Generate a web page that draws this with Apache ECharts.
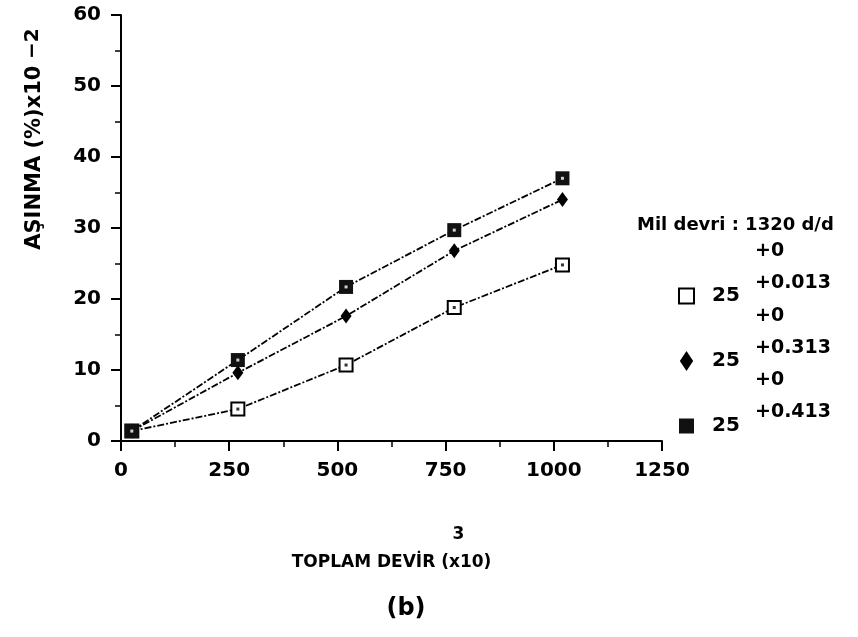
<!DOCTYPE html>
<html>
<head>
<meta charset="utf-8">
<script src="https://cdn.jsdelivr.net/npm/echarts@6/dist/echarts.min.js"></script>
<style>
  html, body { margin: 0; padding: 0; background: #fff; }
  #main { width: 858px; height: 637px; }
</style>
</head>
<body>
<div id="main"></div>
<script>
  // toplam devir (x10^3)
  const totalRev = [25, 270, 520, 770, 1020];
  // asinma (%) x10^-2, one list per shaft tolerance
  const wear013 = [1.4, 4.5, 10.7, 18.8, 24.8];
  const wear313 = [1.4, 9.6, 17.6, 26.8, 34.0];
  const wear413 = [1.4, 11.4, 21.7, 29.7, 37.0];

  const nominal = "25";
  const lowerTol = ["+0", "+0", "+0"];
  const upperTol = ["+0.013", "+0.313", "+0.413"];
  const seriesNames = ["25 +0/+0.013", "25 +0/+0.313", "25 +0/+0.413"];

  const xTicks = [0, 250, 500, 750, 1000, 1250];
  const yTicks = [0, 10, 20, 30, 40, 50, 60];

  const font = "DejaVu Sans";
  const ink = "#000";

  const pairs = (ys) => totalRev.map((x, i) => [x, ys[i]]);

  const lineStyle = { color: ink, width: 1.8, type: [7, 2, 2, 2] };

  const chart = echarts.init(document.getElementById("main"));

  // tolerance texts next to legend entries
  const tolGraphics = [];
  for (let i = 0; i < upperTol.length; i++) {
    const base = 253 + i * 64.5;
    tolGraphics.push({
      type: "text", left: 755, top: base - 11,
      style: { text: lowerTol[i], font: "bold 19px " + font, fill: ink }
    });
    tolGraphics.push({
      type: "text", left: 755, top: base + 21,
      style: { text: upperTol[i], font: "bold 19px " + font, fill: ink }
    });
  }

  // little centre dots seen inside the square markers
  const dotSeries = (pts, color) => ({
    type: "scatter", data: pts, symbol: "rect", symbolSize: 3,
    itemStyle: { color: color }, z: 6, silent: true
  });

  const squareIcon = "path://M0,0L1,0L1,1L0,1Z";
  const diamondIcon = "path://M0,-3L2,0L0,3L-2,0Z";

  const option = {
    backgroundColor: "#fff",
    animation: false,
    textStyle: { fontFamily: font, color: ink, fontWeight: "bold" },
    grid: { left: 121, right: 196, top: 15, bottom: 196 },
    title: [
      {
        text: "Mil devri : 1320 d/d",
        left: 632, top: 211,
        textStyle: { fontFamily: font, fontSize: 18, fontWeight: "bold", color: ink }
      },
      {
        text: "(b)",
        left: 401, top: 592, textAlign: "center",
        textStyle: { fontFamily: font, fontSize: 24, fontWeight: "bold", color: ink }
      }
    ],
    legend: {
      orient: "vertical",
      left: 678, top: 286,
      padding: 0,
      itemWidth: 15, itemHeight: 20,
      itemGap: 45,
      symbolKeepAspect: true,
      data: [
        { name: seriesNames[0], icon: squareIcon },
        { name: seriesNames[1], icon: diamondIcon },
        { name: seriesNames[2], icon: squareIcon }
      ],
      formatter: () => "{n|" + nominal + "}",
      textStyle: {
        rich: { n: { fontFamily: font, fontSize: 20, fontWeight: "bold", color: ink, lineHeight: 20, padding: [0, 0, 0, 13] } }
      }
    },
    xAxis: {
      type: "value",
      min: 0, max: 1250, interval: 250,
      name: "{s|3}\n{a|TOPLAM DEVİR (x10)}",
      nameLocation: "middle",
      nameGap: 80,
      nameTextStyle: {
        rich: {
          s: { fontFamily: font, fontSize: 17, fontWeight: "bold", color: ink, lineHeight: 28, padding: [0, 0, 0, 134] },
          a: { fontFamily: font, fontSize: 17, fontWeight: "bold", color: ink, lineHeight: 28 }
        }
      },
      axisLine: { lineStyle: { color: ink, width: 2 } },
      axisTick: { length: 10, lineStyle: { color: ink, width: 2 } },
      minorTick: { show: true, splitNumber: 2, length: 6, lineStyle: { color: ink, width: 1.5 } },
      splitLine: { show: false },
      axisLabel: {
        margin: 20, color: ink, fontFamily: font, fontWeight: "bold", fontSize: 20,
        formatter: (v) => (xTicks.indexOf(v) >= 0 ? String(v) : "")
      }
    },
    yAxis: {
      type: "value",
      min: 0, max: 60, interval: 10,
      axisLine: { show: true, lineStyle: { color: ink, width: 2 } },
      axisTick: { show: true, length: 10, lineStyle: { color: ink, width: 2 } },
      minorTick: { show: true, splitNumber: 2, length: 6, lineStyle: { color: ink, width: 1.5 } },
      splitLine: { show: false },
      axisLabel: {
        margin: 20, color: ink, fontFamily: font, fontWeight: "bold", fontSize: 20,
        formatter: (v) => (yTicks.indexOf(v) >= 0 ? String(v) : "")
      }
    },
    graphic: [
      {
        type: "text",
        x: 35, y: 139,
        rotation: Math.PI / 2,
        style: {
          text: "{a|AŞINMA (%)x10}  {s|−2}",
          align: "center", verticalAlign: "middle",
          rich: {
            a: { font: "bold 21px " + font, fill: ink },
            s: { font: "bold 20px " + font, fill: ink, padding: [0, 0, 4, 0] }
          }
        }
      }
    ].concat(tolGraphics),
    series: [
      {
        name: seriesNames[0], type: "line", data: pairs(wear013),
        symbol: "rect", symbolSize: 13,
        itemStyle: { color: "#fff", borderColor: ink, borderWidth: 2 },
        lineStyle: lineStyle, z: 2
      },
      {
        name: seriesNames[1], type: "line", data: pairs(wear313),
        symbol: "diamond", symbolSize: [11, 15],
        itemStyle: { color: ink, borderColor: ink, borderWidth: 0 },
        lineStyle: lineStyle, z: 3
      },
      {
        name: seriesNames[2], type: "line", data: pairs(wear413),
        symbol: "rect", symbolSize: 14,
        itemStyle: { color: "#111", borderColor: ink, borderWidth: 0 },
        lineStyle: lineStyle, z: 4
      },
      // open squares skip the shared first point, which the filled square covers
      dotSeries(pairs(wear013).slice(1), ink),
      dotSeries(pairs(wear413), "#fff")
    ]
  };

  chart.setOption(option);
</script>
</body>
</html>
